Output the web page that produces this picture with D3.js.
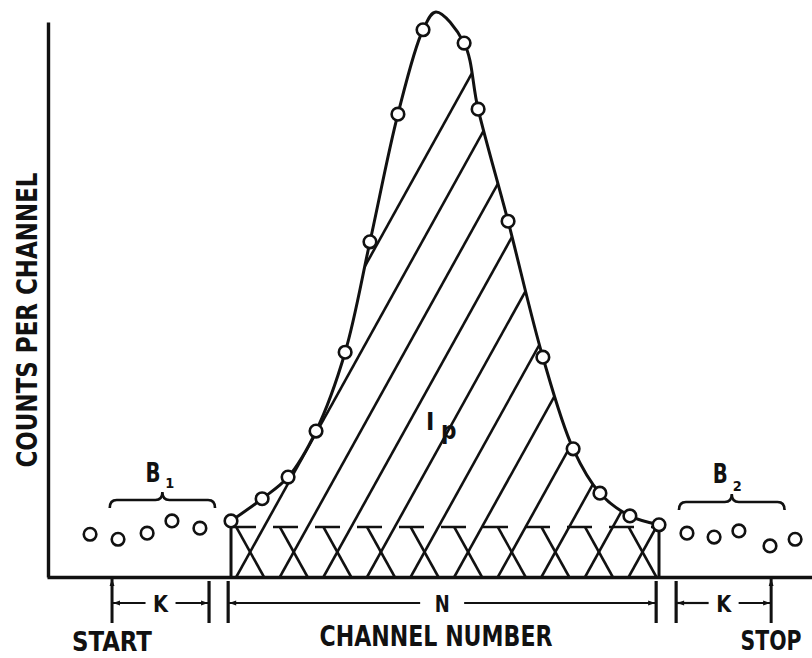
<!DOCTYPE html>
<html>
<head>
<meta charset="utf-8">
<script src="https://cdn.jsdelivr.net/npm/d3@7"></script>
<style>
  html, body { margin: 0; padding: 0; background: #fff; }
  svg { display: block; }
  text { font-family: "DejaVu Sans Condensed", "DejaVu Sans", sans-serif; font-weight: bold; fill: #111; }
</style>
</head>
<body>
<svg id="chart" width="812" height="658"></svg>
<script>
// Background channels left of the peak (B1)
const leftBgChannels = [-4.94, -3.96, -2.94, -2.07, -1.09];
const leftBgCounts   = [77, 68, 79, 101, 88];

// Peak channels (N channels, integrated to give Ip)
const peakChannels = [0, 1.09, 2.0, 2.98, 4.0, 4.87, 5.85, 6.73, 8.17, 8.66, 9.71, 10.93, 11.99, 12.93, 13.98, 15];
const peakCounts   = [101, 141, 180, 263, 405, 604, 834, 986, 962, 843, 641, 396, 231, 151, 110, 94];

// Maximum of the smooth curve drawn through the peak
const apexChannel = 7.18;
const apexCounts = 1018;

// Background channels right of the peak (B2)
const rightBgChannels = [15.98, 16.93, 17.80, 18.89, 19.77];
const rightBgCounts   = [79, 72, 83, 56, 68];

// Average background level under the peak
const backgroundLevel = 90;

// Channel markers for the annotations under the axis
const startChannel = -4.17;
const stopChannel = 18.93;
const kLeftSpan = [-4.17, -0.77];
const nSpan = [-0.1, 14.9];
const kRightSpan = [15.6, 18.93];
const b1Span = [-4.25, -0.56];
const b2Span = [15.7, 19.4];

// Text
const yTitle = "COUNTS PER CHANNEL";
const xTitle = "CHANNEL NUMBER";

const svg = d3.select("#chart");
const ink = "#111";

const x = d3.scaleLinear().domain([-6.449, 20.362]).range([47, 812]);
const y = d3.scaleLinear().domain([0, 1000]).range([577, 22]);

const peak = peakChannels.map((c, i) => ({ c, v: peakCounts[i] }));
const leftBg = leftBgChannels.map((c, i) => ({ c, v: leftBgCounts[i] }));
const rightBg = rightBgChannels.map((c, i) => ({ c, v: rightBgCounts[i] }));

// Curve knots: the measured points plus the fitted maximum
const curveKnots = peak.concat([{ c: apexChannel, v: apexCounts }]).sort((a, b) => a.c - b.c);

const curve = d3.curveCatmullRom.alpha(0.5);
const yBase = y(backgroundLevel);
const yZero = y(0);

// Arrowhead marker
const defs = svg.append("defs");
defs.append("marker")
  .attr("id", "arrow")
  .attr("viewBox", "0 0 10 10")
  .attr("refX", 10).attr("refY", 5)
  .attr("markerWidth", 11).attr("markerHeight", 7)
  .attr("markerUnits", "userSpaceOnUse")
  .attr("orient", "auto")
  .append("path").attr("d", "M0,1.5 L10,5 L0,8.5 Z").attr("fill", ink);

// Clip regions: net peak area above the background line, and the background band below it
const peakArea = d3.area().x(d => x(d.c)).y0(yBase).y1(d => y(d.v)).curve(curve);
const clipAll = defs.append("clipPath").attr("id", "clip-all");
clipAll.append("path").attr("d", peakArea(curveKnots));
clipAll.append("rect")
  .attr("x", x(0)).attr("y", yBase)
  .attr("width", x(15) - x(0)).attr("height", yZero - yBase);
defs.append("clipPath").attr("id", "clip-band")
  .append("rect")
  .attr("x", x(0)).attr("y", yBase)
  .attr("width", x(15) - x(0)).attr("height", yZero - yBase);

// Hatching
const angle = 61 * Math.PI / 180;
const run = 1 / Math.tan(angle);   // horizontal shift per pixel of height
const spacing = 43.6;
const yMid = (yBase + yZero) / 2;
const hatchStarts = d3.range(-1, 11).map(k => x(1.155) + k * spacing);

const hatch = svg.append("g").attr("stroke", ink).attr("stroke-width", 2.6).attr("fill", "none");
hatch.append("g").attr("clip-path", "url(#clip-all)")
  .selectAll("line").data(hatchStarts).join("line")
  .attr("x1", d => d - (yZero - yBase) * run).attr("y1", yZero)
  .attr("x2", d => d + (yBase + 20) * run).attr("y2", -20);
hatch.append("g").attr("clip-path", "url(#clip-band)")
  .selectAll("line").data(hatchStarts).join("line")
  .attr("x1", d => d - 2 * (yMid - yBase) * run).attr("y1", yBase)
  .attr("x2", d => d).attr("y2", yZero);

// Background line
svg.append("line")
  .attr("x1", x(0)).attr("x2", x(15))
  .attr("y1", yBase).attr("y2", yBase)
  .attr("stroke", ink).attr("stroke-width", 2.6)
  .attr("stroke-dasharray", "25 17");

// Vertical limits of the peak region
svg.append("g").attr("stroke", ink).attr("stroke-width", 3)
  .selectAll("line").data([peak[0], peak[peak.length - 1]]).join("line")
  .attr("x1", d => x(d.c)).attr("x2", d => x(d.c))
  .attr("y1", d => y(d.v)).attr("y2", yZero);

// Axes
const yAxis = svg.append("g").attr("transform", `translate(${x.range()[0] + 1},0)`)
  .call(d3.axisLeft(y).tickValues([]).tickSizeOuter(0));
const xAxis = svg.append("g").attr("transform", `translate(0,${yZero})`)
  .call(d3.axisBottom(x).tickValues([]).tickSizeOuter(0));
[yAxis, xAxis].forEach(g => g.select(".domain").attr("stroke", ink).attr("stroke-width", 3.4));

// Peak curve
const line = d3.line().x(d => x(d.c)).y(d => y(d.v)).curve(curve);
svg.append("path").attr("d", line(curveKnots))
  .attr("fill", "none").attr("stroke", ink).attr("stroke-width", 3);

// Data points
svg.append("g")
  .selectAll("circle").data(leftBg.concat(peak, rightBg)).join("circle")
  .attr("cx", d => x(d.c)).attr("cy", d => y(d.v)).attr("r", 6.3)
  .attr("fill", "#fff").attr("stroke", ink).attr("stroke-width", 2.6);

// Dimension lines under the axis
const dimY = 603;
const tickTop = 581, tickBottom = 623;
const dims = svg.append("g").attr("stroke", ink).attr("fill", "none");

dims.selectAll("line.tick").data([kLeftSpan[1], nSpan[0], nSpan[1], kRightSpan[0]]).join("line")
  .attr("class", "tick")
  .attr("x1", d => x(d)).attr("x2", d => x(d))
  .attr("y1", tickTop).attr("y2", tickBottom)
  .attr("stroke-width", 3.2);

dims.selectAll("line.marker").data([startChannel, stopChannel]).join("line")
  .attr("class", "marker")
  .attr("x1", d => x(d)).attr("x2", d => x(d))
  .attr("y1", tickBottom).attr("y2", yZero + 2)
  .attr("stroke-width", 3)
  .attr("marker-end", "url(#arrow)");

function dimension(span, label, gap) {
  const a = x(span[0]), b = x(span[1]), m = (a + b) / 2;
  dims.append("line").attr("x1", m - gap).attr("x2", a + 1).attr("y1", dimY).attr("y2", dimY)
    .attr("stroke-width", 2.2).attr("marker-end", "url(#arrow)");
  dims.append("line").attr("x1", m + gap).attr("x2", b - 1).attr("y1", dimY).attr("y2", dimY)
    .attr("stroke-width", 2.2).attr("marker-end", "url(#arrow)");
  svg.append("text").attr("x", m).attr("y", 612)
    .attr("text-anchor", "middle").attr("font-size", 23)
    .attr("textLength", 15).attr("lengthAdjust", "spacingAndGlyphs")
    .text(label);
}
dimension(kLeftSpan, "K", 15);
dimension(nSpan, "N", 22);
dimension(kRightSpan, "K", 15);

// Braces over the background groups
function brace(span, yTop) {
  const a = x(span[0]), b = x(span[1]), m = (a + b) / 2;
  const p = d3.path();
  p.moveTo(a, yTop + 8);
  p.quadraticCurveTo(a, yTop, a + 7, yTop);
  p.lineTo(m - 7, yTop);
  p.quadraticCurveTo(m, yTop, m, yTop - 8);
  p.quadraticCurveTo(m, yTop, m + 7, yTop);
  p.lineTo(b - 7, yTop);
  p.quadraticCurveTo(b, yTop, b, yTop + 8);
  svg.append("path").attr("d", p.toString())
    .attr("fill", "none").attr("stroke", ink).attr("stroke-width", 2.6);
  return m;
}
const m1 = brace(b1Span, 500);
const m2 = brace(b2Span, 502);

// Background labels with subscripts
function bLabel(xb, yb, sub, xs, ys) {
  svg.append("text").attr("x", xb).attr("y", yb).attr("font-size", 27)
    .attr("textLength", 15).attr("lengthAdjust", "spacingAndGlyphs").text("B");
  svg.append("text").attr("x", xs).attr("y", ys).attr("font-size", 14)
    .attr("textLength", 9).attr("lengthAdjust", "spacingAndGlyphs").text(sub);
}
bLabel(m1 - 17, 482, "1", m1 + 3, 488);
bLabel(m2 - 19, 483, "2", m2 + 1, 491);

// Peak integral label
svg.append("text").attr("x", 426).attr("y", 430).attr("font-size", 25).text("I");
svg.append("text").attr("x", 441).attr("y", 439).attr("font-size", 24).text("p");

// Axis titles and markers
svg.append("text")
  .attr("transform", "translate(37,320) rotate(-90)")
  .attr("text-anchor", "middle").attr("font-size", 29)
  .attr("textLength", 295).attr("lengthAdjust", "spacingAndGlyphs")
  .text(yTitle);

svg.append("text").attr("x", 436).attr("y", 646)
  .attr("text-anchor", "middle").attr("font-size", 29)
  .attr("textLength", 233).attr("lengthAdjust", "spacingAndGlyphs")
  .text(xTitle);

svg.append("text").attr("x", 112).attr("y", 651)
  .attr("text-anchor", "middle").attr("font-size", 26)
  .attr("textLength", 80).attr("lengthAdjust", "spacingAndGlyphs")
  .text("START");

svg.append("text").attr("x", 771).attr("y", 650)
  .attr("text-anchor", "middle").attr("font-size", 27)
  .attr("textLength", 61).attr("lengthAdjust", "spacingAndGlyphs")
  .text("STOP");
</script>
</body>
</html>
